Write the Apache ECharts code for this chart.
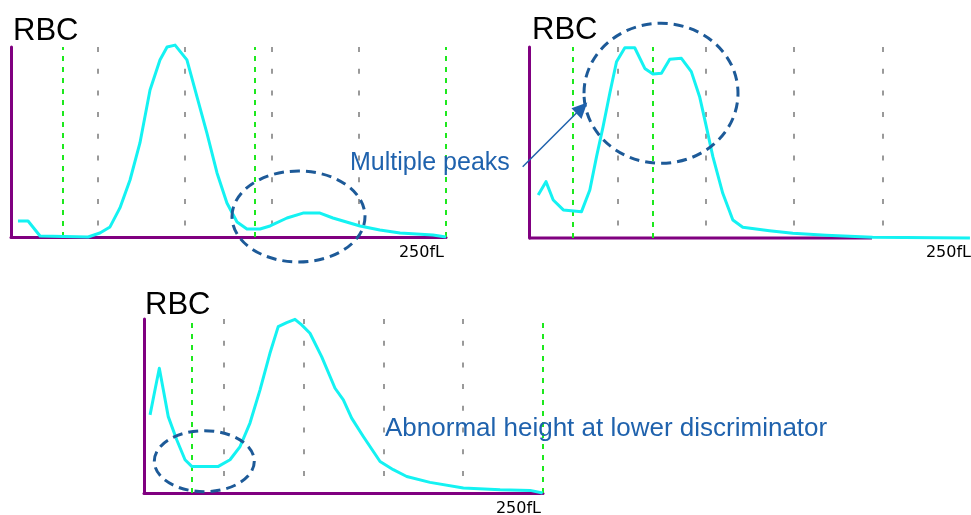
<!DOCTYPE html>
<html>
<head>
<meta charset="utf-8">
<script src="https://cdn.jsdelivr.net/npm/echarts@6/dist/echarts.min.js"></script>
<style>
html,body{margin:0;padding:0;background:#fff;}
#main{width:971px;height:515px;}
</style>
</head>
<body>
<div id="main"></div>
<script>
// ---- Data (volume in fL, relative count 0-100) ----
const rbc1Fl    = [4, 9.8, 16.7, 44.3, 51.1, 56.9, 62.6, 68.4, 74.1, 79.9, 85.6, 89.7, 94.3, 101.1, 106.9, 112.6, 118.4, 124.1, 129.9, 135.6, 143.1, 148.9, 158.6, 167.8, 177.6, 185, 200.6, 212, 223.6, 242.5, 250];
const rbc1Count = [8.4, 8.4, 0.5, 0, 2.1, 5.3, 15.3, 30, 49.5, 77.4, 93.2, 100, 101, 93.2, 73.7, 54.7, 33.7, 17.9, 7.9, 4.2, 4.2, 5.8, 10, 12.6, 12.6, 10, 5.8, 3.7, 2.1, 1, 0];

const rbc2Fl    = [5.2, 9.6, 13.7, 19.4, 29.7, 34.4, 38.2, 41.9, 45.7, 49.5, 54.2, 59.8, 65.5, 70.1, 74.9, 79.6, 86.2, 91.8, 96.5, 100.3, 104, 109.6, 115.3, 120.9, 136, 149.2, 168, 194.3, 249.4];
const rbc2Count = [22.5, 29.5, 19.9, 14.7, 13.8, 25.1, 42.6, 58.3, 75.8, 92.3, 99.6, 99.6, 88.8, 85.9, 86.2, 93.6, 94.1, 87.1, 74, 58.3, 42.6, 23.4, 9.4, 5.6, 3.8, 2.5, 1.4, 0.4, 0];

const rbc3Fl    = [3.8, 6.9, 9.6, 12.1, 15.2, 20.5, 25.7, 29.9, 46.6, 53.9, 60.2, 66.4, 72.7, 78.9, 84.1, 89.4, 94.6, 98.8, 104, 111.3, 119.7, 124.9, 130.1, 137.4, 147.9, 156.2, 164.6, 179.2, 200.1, 223.1, 241.9, 249.8];
const rbc3Count = [44.9, 59.3, 71.7, 59.3, 43.9, 30.6, 19.1, 15.3, 15.3, 19.1, 26.7, 40.2, 59.3, 80.3, 95.6, 97.9, 99.8, 96.6, 91.8, 78.4, 60.2, 53.5, 43, 32.5, 18.1, 13.4, 9.5, 6.1, 2.9, 1.9, 1.5, 0];

// discriminator (green) lines, fL
const disc1 = [30, 140, 250];
const disc2 = [25, 70];
const disc3 = [30, 250];

// chart 2 drawn x-axis extent (fL)
const axis2Span = [0, 194];

// texts
const titleText = 'RBC';
const rangeLabel = '250fL';
const note1 = 'Multiple peaks';
const note2 = 'Abnormal height at lower discriminator';

// ---- Styles ----
const PURPLE = '#800080';
const CYAN = '#14f2f2';
const GREEN = '#1ee81e';
const GRAY = '#9a9a9a';
const NOTE = '#1f62ad';
const ELL = '#1d5a98';

const zip = (xs, ys) => xs.map((x, i) => [x, ys[i]]);

const grids = [
  {left: 11, top: 47, width: 435, height: 190},
  {left: 529, top: 47, width: 443, height: 191},
  {left: 144, top: 319, width: 399, height: 174}
];

function xAx(i, showLine) {
  return {
    type: 'value', gridIndex: i, min: 0, max: 250, interval: 50,
    axisLine: {show: showLine, onZero: false, lineStyle: {color: PURPLE, width: 3}},
    axisTick: {show: false}, axisLabel: {show: false},
    splitLine: {show: true, showMinLine: false, showMaxLine: false,
      lineStyle: {color: GRAY, width: 2, type: [5, 16.7]}}
  };
}
function yAx(i) {
  return {
    type: 'value', gridIndex: i, min: 0, max: 100,
    axisLine: {show: true, onZero: false, lineStyle: {color: PURPLE, width: 3}},
    axisTick: {show: false}, axisLabel: {show: false}, splitLine: {show: false}
  };
}
function curve(i, fl, cnt, disc) {
  return {
    type: 'line', xAxisIndex: i, yAxisIndex: i, data: zip(fl, cnt),
    showSymbol: false, symbol: 'none', clip: false, z: 5,
    lineStyle: {color: CYAN, width: 3, join: 'round'},
    markLine: {
      silent: true, symbol: ['none', 'none'], label: {show: false},
      lineStyle: {color: GREEN, width: 2, type: [5, 6]},
      emphasis: {disabled: true},
      data: disc.map(v => ({xAxis: v}))
    }
  };
}

const chart = echarts.init(document.getElementById('main'), null, {renderer: 'canvas'});

const font = 'Liberation Sans, Arial, sans-serif';
const titles = [[13, 31], [532, 30], [145, 305]];
const labels = [[444, 253], [971, 253], [541, 509]];

const graphic = [];
titles.forEach(p => graphic.push({type: 'text', x: p[0], y: p[1],
  style: {text: titleText, fill: '#000', font: '31px ' + font, verticalAlign: 'middle', align: 'left'}}));
labels.forEach(p => graphic.push({type: 'text', x: p[0], y: p[1],
  style: {text: rangeLabel, fill: '#000', font: '16px DejaVu Sans', verticalAlign: 'middle', align: 'right'}}));
graphic.push({type: 'text', x: 350, y: 163, z: 10,
  style: {text: note1, fill: NOTE, font: '25px ' + font, verticalAlign: 'middle', align: 'left'}});
graphic.push({type: 'text', x: 385, y: 429, z: 10,
  style: {text: note2, fill: NOTE, font: '26px ' + font, verticalAlign: 'middle', align: 'left'}});
// ellipses
[[298.5, 216.5, 66.5, 45.5], [661, 93.3, 77, 70], [204.3, 461.2, 50, 30.5]].forEach(e =>
  graphic.push({type: 'ellipse', z: 10, shape: {cx: e[0], cy: e[1], rx: e[2], ry: e[3]},
    style: {fill: 'none', stroke: ELL, lineWidth: 3, lineDash: [10, 6]}}));
// arrow
graphic.push({type: 'line', z: 10, shape: {x1: 522.7, y1: 166.7, x2: 577, y2: 112.5},
  style: {stroke: NOTE, lineWidth: 1.5}});
graphic.push({type: 'polygon', z: 10, shape: {points: [[587.3, 102.5], [571.5, 108.3], [581.5, 119]]},
  style: {fill: NOTE}});

chart.setOption({
  animation: false,
  backgroundColor: '#fff',
  grid: grids,
  xAxis: [xAx(0, true), xAx(1, false), xAx(2, true)],
  yAxis: [yAx(0), yAx(1), yAx(2)],
  series: [
    curve(0, rbc1Fl, rbc1Count, disc1),
    {type: 'line', xAxisIndex: 1, yAxisIndex: 1, data: axis2Span.map(x => [x, 0]),
     showSymbol: false, symbol: 'none', z: 3, clip: false, lineStyle: {color: PURPLE, width: 3}},
    curve(1, rbc2Fl, rbc2Count, disc2),
    curve(2, rbc3Fl, rbc3Count, disc3)
  ],
  graphic: graphic
});
</script>
</body>
</html>
